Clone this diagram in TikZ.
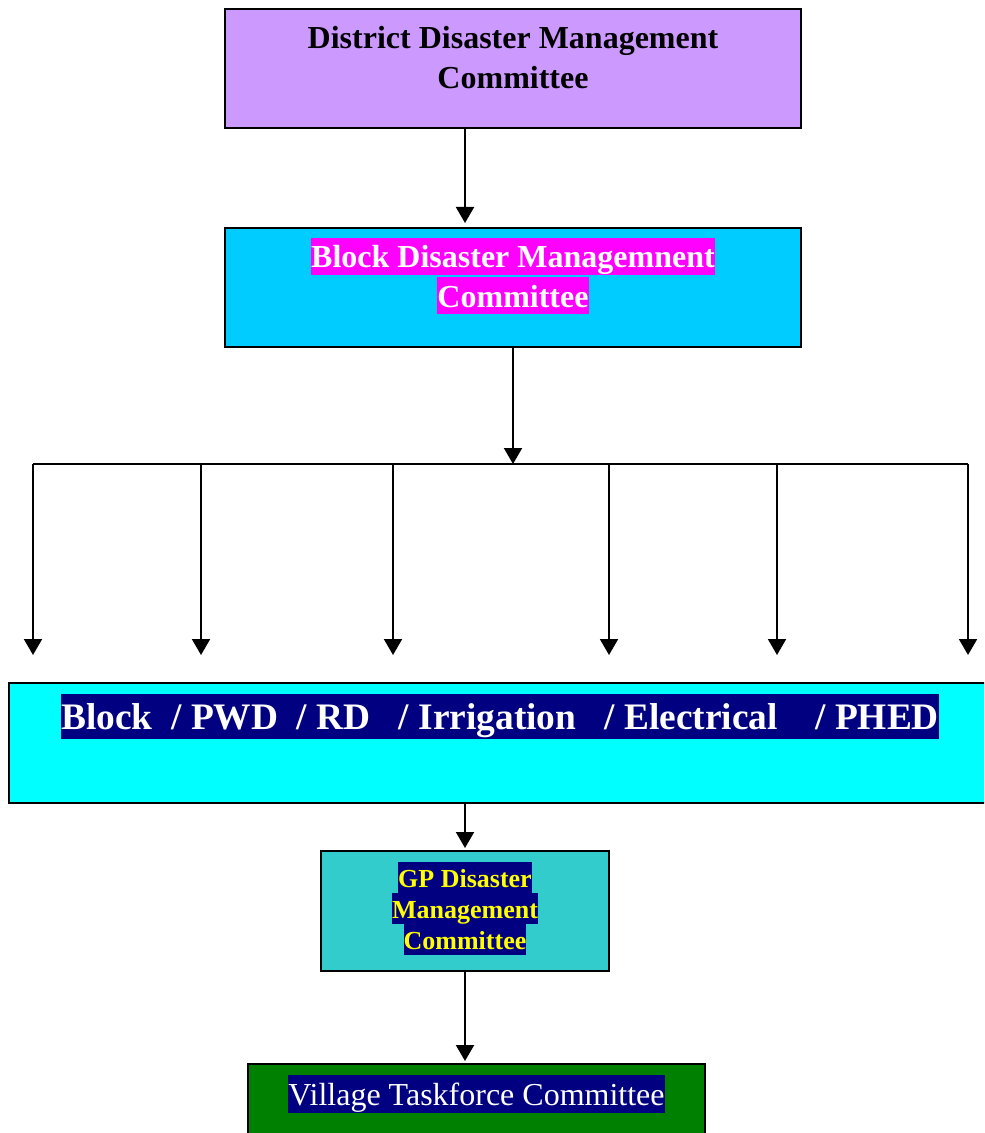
\documentclass[tikz,border=0pt]{standalone}
\usepackage{fontspec}
\setmainfont{Liberation Serif}
\usetikzlibrary{arrows.meta,positioning}
\definecolor{lilac}{HTML}{CC99FF}
\definecolor{skyblue}{HTML}{00CCFF}
\definecolor{aquabox}{HTML}{00FFFF}
\definecolor{tealbox}{HTML}{33CCCC}
\definecolor{greenbox}{HTML}{008000}
\definecolor{navyhl}{HTML}{000080}
\definecolor{magentahl}{HTML}{FF00FF}
\definecolor{yellowtxt}{HTML}{FFFF00}
\newcommand{\hlline}[4]{{\setlength{\fboxsep}{0pt}\colorbox{#1}{\rule[-#2]{0pt}{#3}#4}}}

\begin{document}
\begin{tikzpicture}[>={Triangle[length=8pt,width=9pt]},x=0.5pt,y=-0.5pt,line width=1pt,
    orgbox/.style={draw=black,line width=1pt,minimum height=59.5pt,inner sep=0pt},
    boxtext/.style={anchor=north,align=center,inner sep=0pt}]
      \useasboundingbox (0,0) rectangle (984,1133);
      \clip (0,0) rectangle (984,1133);
      % committee boxes
      \node[orgbox,fill=lilac,minimum width=288pt] (ddmc) at (513,68.5) {};
      \node[boxtext,font=\fontsize{16}{18.5}\selectfont\bfseries] (ddmctext) at ([yshift=-5pt]ddmc.north)
        {\rule[-3.5pt]{0pt}{18.5pt}District Disaster Management\\ \rule[-3.5pt]{0pt}{18.5pt}Committee};
      \node[orgbox,fill=skyblue,minimum width=288pt] (bdmc) at (513,287.5) {};
      \node[boxtext,font=\fontsize{16}{18.5}\selectfont\bfseries,text=white] (bdmctext) at ([yshift=-5pt]bdmc.north)
        {\hlline{magentahl}{3.5pt}{18.5pt}{Block Disaster Managemnent}\\ \hlline{magentahl}{3.5pt}{18.5pt}{Committee}};
      \node[orgbox,fill=aquabox,minimum width=491pt,minimum height=60pt] (dept) at (500,743) {};
      \node[boxtext,font=\fontsize{18.7}{22.5}\selectfont\bfseries,text=white] (depttext) at ([yshift=-5.5pt]dept.north)
        {\hlline{navyhl}{5pt}{22.5pt}{Block\ \ / PWD\ \ / RD\ \ \ / Irrigation\ \ \ / Electrical\ \ \ \ / PHED}};
      \node[orgbox,fill=tealbox,minimum width=144pt,minimum height=60pt] (gp) at (465,911) {};
      \node[boxtext,font=\fontsize{13}{15.5}\selectfont\bfseries,text=yellowtxt] (gptext) at ([yshift=-5.5pt]gp.north)
        {\hlline{navyhl}{3pt}{15.5pt}{GP Disaster}\\ \hlline{navyhl}{3pt}{15.5pt}{Management}\\ \hlline{navyhl}{3pt}{15.5pt}{Committee}};
      \node[orgbox,fill=greenbox,minimum width=228.5pt,minimum height=60pt] (vtf) at (476.5,1124) {};
      \node[boxtext,font=\fontsize{16}{19}\selectfont,text=white] (vtftext) at ([yshift=-5.5pt]vtf.north)
        {\hlline{navyhl}{4pt}{19pt}{Village Taskforce Committee}};
      % connectors
      \draw[->,shorten >=2pt] (ddmc.south -| gp.north) -- (bdmc.north -| gp.north);
      \coordinate (hub) at (513,464);
      \coordinate (busl) at (33,464);
      \coordinate (busr) at (968,464);
      \draw[->] (bdmc.south) -- (hub);
      \draw (busl) -- (busr);
      \foreach \x [count=\i] in {33,201,393,609,777,968}{
        \coordinate (top\i) at (\x,464);
        \coordinate (tip\i) at (\x,655);
        \draw[->] (top\i) -- (tip\i);
      }
      \draw[->,shorten >=1pt] (dept.south -| gp.north) -- (gp.north);
      \draw[->,shorten >=1pt] (gp.south) -- (gp.south |- vtf.north);
\end{tikzpicture}
\end{document}
